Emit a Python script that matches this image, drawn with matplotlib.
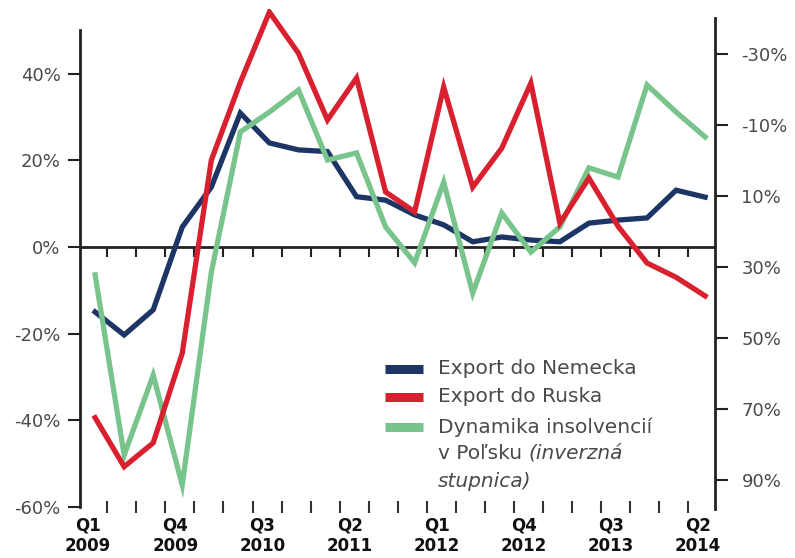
import numpy as np
import matplotlib.pyplot as plt

# kvartaly Q1 2009 .. Q2 2014
quarters = np.arange(22)
label_pos = [0, 3, 6, 9, 12, 15, 18, 21]
labels = ['Q1\n2009', 'Q4\n2009', 'Q3\n2010', 'Q2\n2011',
          'Q1\n2012', 'Q4\n2012', 'Q3\n2013', 'Q2\n2014']

# export do Nemecka (lava os, %)
nemecko = [-15.0, -20.3, -14.5, 4.6, 13.8, 30.9, 24.0, 22.4, 22.0, 11.6, 10.8,
           7.4, 5.1, 1.2, 2.3, 1.6, 1.2, 5.5, 6.2, 6.7, 13.1, 11.5]
# export do Ruska (lava os, %)
rusko = [-39.4, -50.7, -45.2, -24.5, 20.0, 38.0, 54.2, 44.7, 29.3, 39.0, 12.7,
         8.1, 36.9, 13.8, 22.8, 37.8, 5.5, 15.9, 4.8, -3.7, -7.0, -11.3]
# insolvencie v Polsku (prava os, inverzna)
insolv = [32.2, 82.9, 60.4, 91.3, 31.5, -8.0, -13.6, -19.8, -0.1, -2.1, 18.7,
          28.8, 6.1, 37.3, 14.8, 25.8, 18.7, 2.1, 4.7, -21.2, -13.6, -6.6]

left_ticks = [-60, -40, -20, 0, 20, 40]
right_ticks = [-30, -10, 10, 30, 50, 70, 90]

blue = '#1d3564'
red = '#d8202f'
green = '#78c48c'
grey = '#4a4a4a'
lw = 3.8

fig = plt.figure(figsize=(7.95, 5.58), dpi=100)
ax = fig.add_axes([80 / 795, 51 / 558, 635 / 795, 498.4 / 558])
ax2 = ax.twinx()

ax.plot(quarters, nemecko, color=blue, lw=lw, solid_joinstyle='miter', zorder=3)
ax2.plot(quarters, insolv, color=green, lw=lw, solid_joinstyle='miter', zorder=3)
# cervena ciara navrchu, ale v mierke lavej osi
ax2.plot(quarters, rusko, color=red, lw=lw, solid_joinstyle='miter', zorder=4,
         transform=ax.transData)

ax.set_xlim(-0.52, 21.34)
ax.set_ylim(-60, 55)
ax2.set_ylim(97.5, -42.7)

# nulova os s ryskami
tick_x = np.arange(21) + 0.42
ax.axhline(0, color='#222222', lw=2, zorder=2)
ax.vlines(tick_x, -2.3, 0, color='#222222', lw=1.5, zorder=2)

for s in ['top', 'bottom', 'right']:
    ax.spines[s].set_visible(False)
for s in ['top', 'bottom', 'left']:
    ax2.spines[s].set_visible(False)
ax.spines['left'].set_bounds(-60, 50)
ax.spines['left'].set_linewidth(2)
ax.spines['left'].set_color('#222222')
ax2.spines['right'].set_bounds(-40, 98)
ax2.spines['right'].set_linewidth(2)
ax2.spines['right'].set_color('#222222')

ax.set_yticks(left_ticks)
ax.set_yticklabels([f'{v}%' for v in left_ticks])
ax.tick_params(axis='y', length=9, width=1.5, color='#222222', labelsize=13,
               labelcolor=grey, pad=5)
ax2.set_yticks(right_ticks)
ax2.set_yticklabels([f'{v}%' for v in right_ticks])
ax2.tick_params(axis='y', length=9, width=1.5, color='#222222', labelsize=13,
                labelcolor=grey, pad=10)

ax.set_xticks(np.array(label_pos) - 0.24)
ax.set_xticklabels(labels, fontweight='bold', fontsize=12, linespacing=1.15)
ax.set_xticks(tick_x, minor=True)
ax.tick_params(axis='x', which='major', length=0, pad=7, labelcolor='#111111')
ax.tick_params(axis='x', which='minor', length=9, width=1.5, direction='inout',
               color='#333333')

# legenda
rows = [(0.277, blue, 'Export do Nemecka'),
        (0.221, red, 'Export do Ruska'),
        (0.161, green, 'Dynamika insolvencií')]
for y, c, t in rows:
    ax.plot([0.480, 0.540], [y, y], color=c, lw=6.5, solid_capstyle='butt',
            transform=ax.transAxes, clip_on=False)
    ax.text(0.564, y, t, transform=ax.transAxes, fontsize=14.5, color=grey,
            va='center', ha='left')
t1 = ax.text(0.564, 0.108, 'v Poľsku ', transform=ax.transAxes, fontsize=14.5,
             color=grey, va='center', ha='left')
ax.annotate('(inverzná', xy=(1, 0), xycoords=t1, va='bottom', ha='left',
            fontsize=14.5, color=grey, fontstyle='italic')
ax.text(0.564, 0.052, 'stupnica)', transform=ax.transAxes, fontsize=14.5,
        color=grey, va='center', ha='left', fontstyle='italic')

plt.savefig('out.png', dpi=100)
